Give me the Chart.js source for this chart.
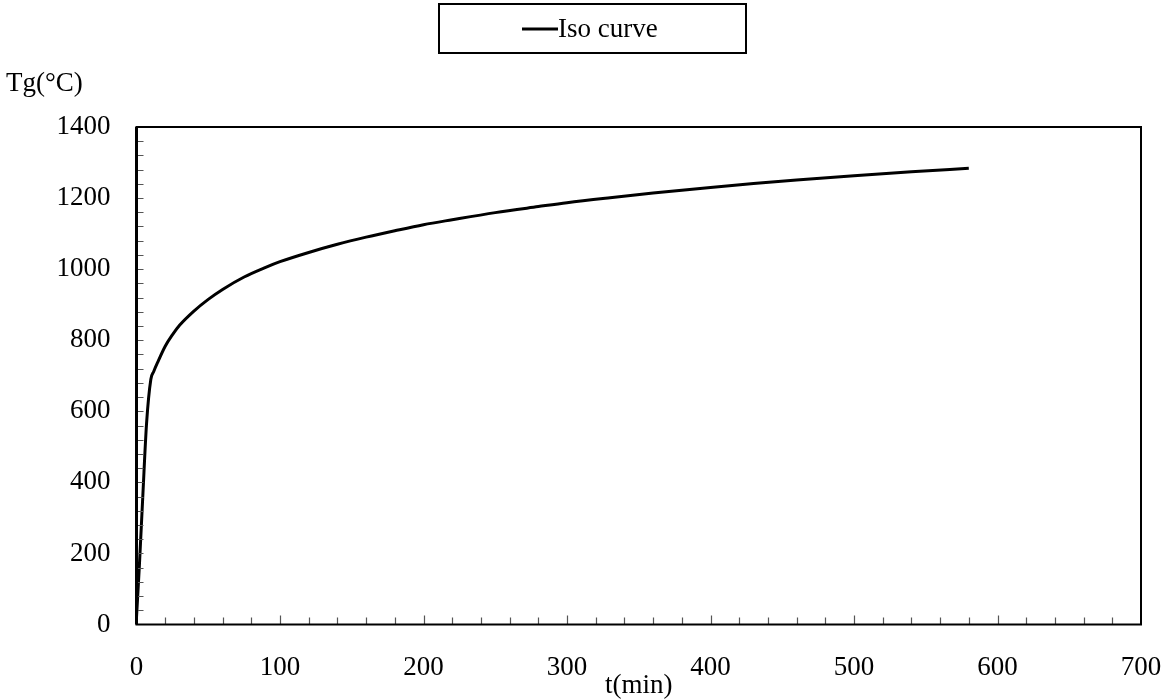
<!DOCTYPE html>
<html>
<head>
<meta charset="utf-8">
<title>Iso curve</title>
<script src="https://cdn.jsdelivr.net/npm/chart.js@4.4.1/dist/chart.umd.min.js"></script>
<style>
  html, body { margin: 0; padding: 0; background: #ffffff; }
  canvas { display: block; }
</style>
</head>
<body>
<canvas id="chart" width="1165" height="699"></canvas>
<script>
// Gas temperature vs. time (standard fire curve)
const timeMin = [0, 2, 4.5, 7, 10, 12, 15, 20, 25, 30, 40, 50, 60, 75, 90, 100, 120, 140, 160, 180,
                 200, 220, 250, 280, 300, 330, 360, 400, 430, 460, 500, 540, 580];
const tempC   = [20, 165, 370, 565, 690, 712, 740, 783, 815, 842, 882, 915, 943, 978, 1005, 1021, 1047, 1070, 1090, 1108,
                 1125, 1139, 1159, 1176, 1187, 1201, 1214, 1230, 1241, 1251, 1263, 1274, 1284];
const seriesName = 'Iso curve';
const xTicks = [0, 100, 200, 300, 400, 500, 600, 700];
const yTicks = [0, 200, 400, 600, 800, 1000, 1200, 1400];
const xMinorStep = 20;
const yMinorStep = 40;
const yTitle = 'Tg(\u00B0C)';
const xTitle = 't(min)';

const FONT = '"Liberation Serif", "Times New Roman", serif';

const points = timeMin.map((t, i) => ({ x: t, y: tempC[i] }));

// frame, inward tick marks, legend box and y title
const decorations = {
  id: 'decorations',
  afterDraw(chart) {
    const ctx = chart.ctx;
    const a = chart.chartArea;
    const xs = chart.scales.x, ys = chart.scales.y;
    ctx.save();

    // inward minor / major ticks
    ctx.strokeStyle = '#555555';
    ctx.lineWidth = 1.2;
    ctx.beginPath();
    for (let v = xs.min + xMinorStep; v < xs.max; v += xMinorStep) {
      const px = Math.round(xs.getPixelForValue(v)) + 0.5;
      const len = (v % 100 === 0) ? 9 : 7;
      ctx.moveTo(px, a.bottom);
      ctx.lineTo(px, a.bottom - len);
    }
    for (let v = ys.min + yMinorStep; v < ys.max; v += yMinorStep) {
      const py = Math.round(ys.getPixelForValue(v)) + 0.5;
      ctx.moveTo(a.left, py);
      ctx.lineTo(a.left + 7, py);
    }
    ctx.stroke();

    // plot frame
    ctx.strokeStyle = '#000000';
    ctx.lineWidth = 2;
    ctx.strokeRect(a.left, a.top, a.right - a.left, a.bottom - a.top);
    ctx.lineWidth = 3;
    ctx.beginPath();
    ctx.moveTo(a.left, a.top);
    ctx.lineTo(a.left, a.bottom);
    ctx.stroke();

    // y axis title, horizontal above the axis
    ctx.fillStyle = '#000000';
    ctx.font = '27px ' + FONT;
    ctx.textAlign = 'left';
    ctx.textBaseline = 'middle';
    ctx.fillText(yTitle, 6, 84);

    // legend box
    const ds = chart.data.datasets[0];
    ctx.lineWidth = 2;
    ctx.strokeStyle = '#000000';
    ctx.strokeRect(439, 4, 307, 49);
    ctx.strokeStyle = ds.borderColor;
    ctx.lineWidth = 3;
    ctx.beginPath();
    ctx.moveTo(522, 29);
    ctx.lineTo(558, 29);
    ctx.stroke();
    ctx.fillStyle = '#000000';
    ctx.font = '27px ' + FONT;
    ctx.textBaseline = 'middle';
    ctx.fillText(ds.label, 558, 30);

    ctx.restore();
  }
};

new Chart(document.getElementById('chart'), {
  type: 'line',
  data: {
    datasets: [{
      label: seriesName,
      data: points,
      borderColor: '#000000',
      backgroundColor: '#000000',
      borderWidth: 3,
      pointRadius: 0,
      fill: false,
      cubicInterpolationMode: 'monotone'
    }]
  },
  options: {
    responsive: false,
    animation: false,
    layout: { padding: { top: 127, right: 24, left: 0, bottom: 0 } },
    plugins: {
      legend: { display: false },
      tooltip: { enabled: false }
    },
    scales: {
      x: {
        type: 'linear',
        min: 0,
        max: 700,
        afterBuildTicks: s => { s.ticks = xTicks.map(v => ({ value: v })); },
        afterFit: s => { s.height = 74.5; s.paddingLeft = 0; s.paddingRight = 0; },
        grid: { display: false, drawTicks: false },
        border: { display: false },
        ticks: {
          padding: 27,
          color: '#000000',
          font: { family: FONT, size: 27 },
          maxRotation: 0,
          callback: v => String(v)
        },
        title: {
          display: true,
          text: xTitle,
          color: '#000000',
          font: { family: FONT, size: 27, lineHeight: 1.0 },
          padding: { top: 0, bottom: 0 }
        }
      },
      y: {
        type: 'linear',
        min: 0,
        max: 1400,
        afterBuildTicks: s => { s.ticks = yTicks.map(v => ({ value: v })); },
        afterFit: s => { s.width = 136.5; s.paddingTop = 0; s.paddingBottom = 0; },
        grid: { display: false, drawTicks: false },
        border: { display: false },
        ticks: {
          padding: 26,
          color: '#000000',
          font: { family: FONT, size: 27 },
          callback: v => String(v)
        }
      }
    }
  },
  plugins: [decorations]
});
</script>
</body>
</html>
